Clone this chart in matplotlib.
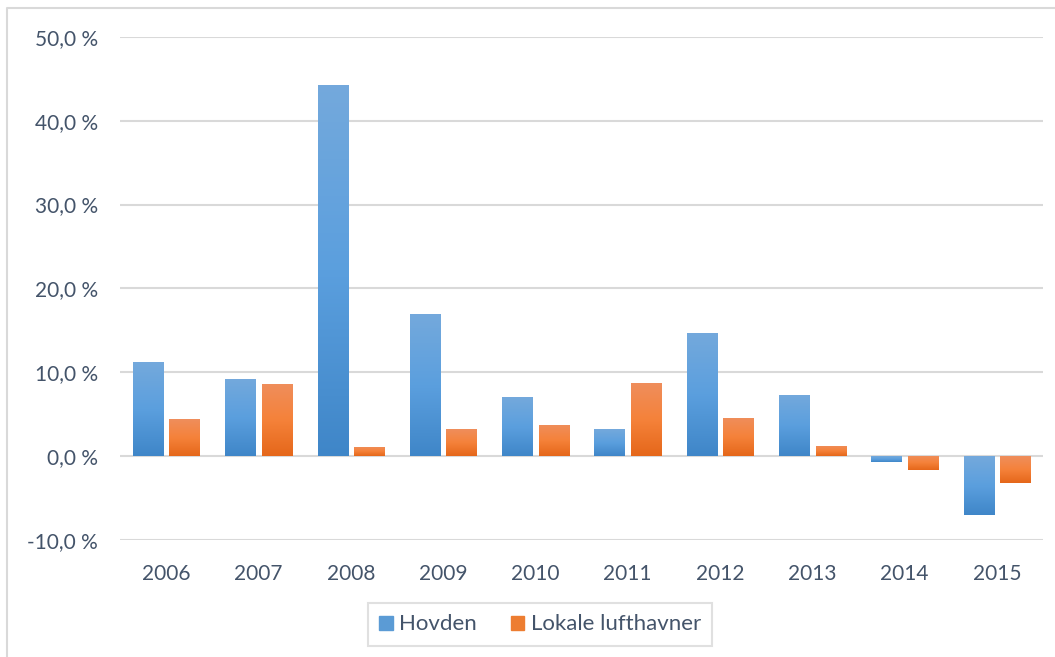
#!/usr/bin/env python3
# encoding: utf-8

import numpy as np
import matplotlib
matplotlib.use('Agg')
import matplotlib.pyplot as plt
from matplotlib.colors import LinearSegmentedColormap
from matplotlib.patches import Rectangle
from matplotlib.lines import Line2D

# Årlig vekst i passasjertall
aar = ['2006', '2007', '2008', '2009', '2010', '2011', '2012', '2013', '2014', '2015']
hovden = [11.2, 9.2, 44.3, 16.9, 7.0, 3.2, 14.7, 7.3, -0.7, -7.0]
lokale = [4.4, 8.6, 1.1, 3.2, 3.7, 8.7, 4.6, 1.2, -1.7, -3.2]
serier = ['Hovden', 'Lokale lufthavner']
yticks = [-10, 0, 10, 20, 30, 40, 50]

tekstfarge = '#44546A'
plt.rcParams['font.family'] = ['Lato', 'DejaVu Sans']

# Gradient (bunn -> topp) for hver serie
blaa = LinearSegmentedColormap.from_list('blaa', ['#3F86C8', '#5B9FDE', '#74A9DC'])
oransje = LinearSegmentedColormap.from_list('oransje', ['#E5671A', '#F5823A', '#EF8E5C'])

fig = plt.figure(figsize=(10.55, 6.57), dpi=100)
ax = fig.add_axes([0.1137, 0.178, 0.875, 0.766])

x = np.arange(len(aar))
bredde = 0.325
avstand = 0.035

def gradient_bars(xpos, verdier, cmap, label):
    bars = ax.bar(xpos, verdier, width=bredde, color=cmap(0.5), label=label, zorder=3)
    grad = np.linspace(0, 1, 256).reshape(-1, 1)
    for b in bars:
        b.set_facecolor('none')
        x0 = b.get_x()
        y0 = b.get_y()
        h = b.get_height()
        lo, hi = min(y0, y0 + h), max(y0, y0 + h)
        im = ax.imshow(grad, extent=[x0, x0 + b.get_width(), lo, hi], origin='lower',
                       cmap=cmap, aspect='auto', zorder=3)
        im.set_clip_path(b)
    return bars

gradient_bars(x - bredde / 2 - avstand, hovden, blaa, serier[0])
gradient_bars(x + bredde / 2 + avstand, lokale, oransje, serier[1])

ax.set_xlim(-0.5, len(aar) - 0.5)
ax.set_ylim(-10, 50)
ax.set_yticks(yticks)
ax.set_yticklabels([f'{v:.1f} %'.replace('.', ',') for v in yticks])
ax.set_xticks(x)
ax.set_xticklabels(aar)
ax.tick_params(length=0, labelsize=15, colors=tekstfarge)
ax.tick_params(axis='y', pad=16)
ax.tick_params(axis='x', pad=17)
ax.yaxis.grid(True, color='#D9D9D9', linewidth=1.5, zorder=0)
for s in ax.spines.values():
    s.set_visible(False)

# Legend med egne firkanter
handles = [Rectangle((0, 0), 1, 1, color='#5B9BD5'), Rectangle((0, 0), 1, 1, color='#ED7D31')]
leg = fig.legend(handles, serier, loc='center', bbox_to_anchor=(0.512, 0.0495), ncol=2,
                 fontsize=16, frameon=True, fancybox=False, handlelength=0.6, handleheight=0.6,
                 handletextpad=0.3, columnspacing=1.5, borderpad=0.5,
                 labelcolor=tekstfarge)
leg.get_frame().set_edgecolor('#D9D9D9')
leg.get_frame().set_linewidth(1.5)

# Ramme venstre og øverst
fig.lines.append(Line2D([7 / 1055, 7 / 1055, 1.0], [0.0, 1 - 8 / 657, 1 - 8 / 657],
                        transform=fig.transFigure, color='#D9D9D9', linewidth=1.5))

fig.savefig('out.png', dpi=100)
